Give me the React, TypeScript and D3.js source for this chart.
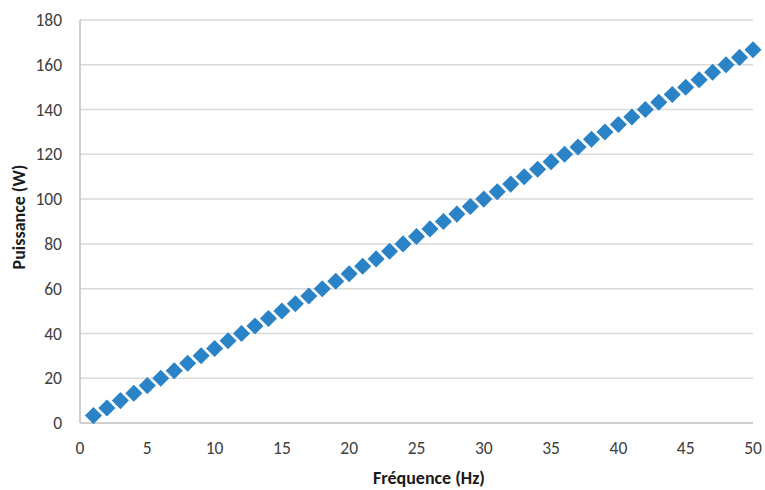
import React from "react";
import * as d3 from "d3";

const frequencies = [1,2,3,4,5,6,7,8,9,10,11,12,13,14,15,16,17,18,19,20,21,22,23,24,25,26,27,28,29,30,31,32,33,34,35,36,37,38,39,40,41,42,43,44,45,46,47,48,49,50];
const powers = [3.3,6.7,10,13.3,16.7,20,23.3,26.7,30,33.3,36.7,40,43.3,46.7,50,53.3,56.7,60,63.3,66.7,70,73.3,76.7,80,83.3,86.7,90,93.3,96.7,100,103.3,106.7,110,113.3,116.7,120,123.3,126.7,130,133.3,136.7,140,143.3,146.7,150,153.3,156.7,160,163.3,166.7];
const xTicks = [0,5,10,15,20,25,30,35,40,45,50];
const yTicks = [0,20,40,60,80,100,120,140,160,180];

export default function App() {
  const W = 765, H = 490;
  const left = 80, right = 753, top = 20, bottom = 423;
  const x = d3.scaleLinear().domain([0, 50]).range([left, right]);
  const y = d3.scaleLinear().domain([0, 180]).range([bottom, top]);
  const font = "Carlito, 'Open Sans', 'Liberation Sans', sans-serif";
  const diamond = d3.symbol().type(d3.symbolDiamond2).size(185)();
  return (
    <svg width={W} height={H} style={{ position: "absolute", left: 0, top: 0, background: "#fff" }}>
      {yTicks.map(t => (
        <line key={"g" + t} x1={left} x2={right} y1={y(t)} y2={y(t)} stroke={t === 0 ? "#bfbfbf" : "#d9d9d9"} strokeWidth={1.5} />
      ))}
      <line x1={left} x2={left} y1={top} y2={bottom} stroke="#bfbfbf" strokeWidth={1.5} />
      {yTicks.map(t => (
        <text key={"yt" + t} x={62} y={y(t)} dy="0.35em" textAnchor="end" fontFamily={font} fontSize={17.5} fill="#404040">{t}</text>
      ))}
      {xTicks.map(t => (
        <text key={"xt" + t} x={x(t)} y={448} dy="0.35em" textAnchor="middle" fontFamily={font} fontSize={17.5} fill="#404040">{t}</text>
      ))}
      {frequencies.map((f, i) => (
        <path key={"p" + i} d={diamond as string} transform={`translate(${x(f)},${y(powers[i])})`} fill="#2a83c6" />
      ))}
      <text x={429} y={484} textAnchor="middle" fontFamily={font} fontSize={18} fontWeight="bold" fill="#1a1a1a">Fréquence (Hz)</text>
      <text transform={`translate(25,217) rotate(-90)`} textAnchor="middle" fontFamily={font} fontSize={18} fontWeight="bold" fill="#1a1a1a">Puissance (W)</text>
    </svg>
  );
}
